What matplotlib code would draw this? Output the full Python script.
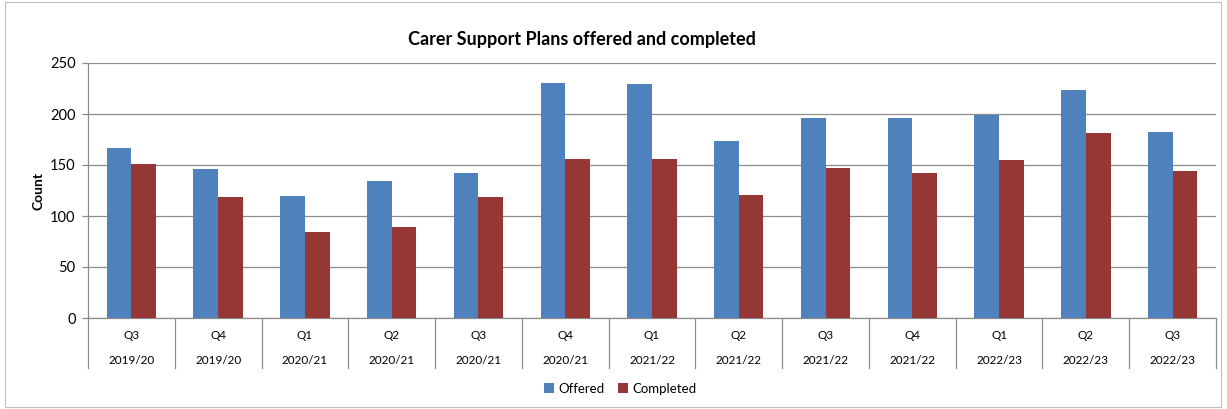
import numpy as np
import matplotlib.pyplot as plt
from matplotlib.patches import Rectangle
from matplotlib.transforms import blended_transform_factory

plt.rcParams['font.family'] = ['Lato', 'DejaVu Sans']

# 분기별 데이터
quarters = ['Q3', 'Q4', 'Q1', 'Q2', 'Q3', 'Q4', 'Q1', 'Q2', 'Q3', 'Q4', 'Q1', 'Q2', 'Q3']
years = ['2019/20', '2019/20', '2020/21', '2020/21', '2020/21', '2020/21', '2021/22',
         '2021/22', '2021/22', '2021/22', '2022/23', '2022/23', '2022/23']
offered = [167, 146, 120, 134, 142, 230, 229, 174, 196, 196, 199, 224, 182]
completed = [151, 119, 84, 89, 119, 156, 156, 121, 147, 142, 155, 181, 144]

blue = '#4F81BD'
red = '#953735'
grid_c = '#8C8C8C'

fig = plt.figure(figsize=(12.27, 4.09), dpi=100)
W, H = 1227, 409
# 축 영역 (픽셀 기준)
left, right, top, bottom = 88, 1216, 63, 318
ax = fig.add_axes([left / W, 1 - bottom / H, (right - left) / W, (bottom - top) / H])

# 차트 외곽선
fig.patches.append(Rectangle((5 / W, 2 / H), 1216 / W, 1 - 4 / H,
                             transform=fig.transFigure, fill=False,
                             edgecolor='#BFBFBF', linewidth=0.8))

x = np.arange(len(quarters))
bw = 0.285
ax.bar(x - bw / 2, offered, bw, color=blue, label='Offered', zorder=3)
ax.bar(x + bw / 2, completed, bw, color=red, label='Completed', zorder=3)

ax.set_xlim(-0.5, len(quarters) - 0.5)
ax.set_ylim(0, 250)
ax.set_yticks(range(0, 251, 50))
ax.yaxis.grid(True, color=grid_c, linewidth=0.9, zorder=0)
ax.tick_params(axis='y', length=4, width=0.9, color=grid_c, labelsize=10.5, pad=5)
ax.set_xticks([])
for s in ['top', 'right']:
    ax.spines[s].set_visible(False)
for s in ['left', 'bottom']:
    ax.spines[s].set_color(grid_c)
    ax.spines[s].set_linewidth(0.9)

# 2단 분류 축 라벨
tr = blended_transform_factory(ax.transData, ax.transAxes)
for i in range(len(quarters)):
    ax.text(x[i], -0.07, quarters[i], transform=tr, ha='center', va='center', fontsize=8.5)
    ax.text(x[i], -0.165, years[i], transform=tr, ha='center', va='center', fontsize=8.5)
for b in np.arange(-0.5, len(quarters), 1.0):
    ax.plot([b, b], [0, -0.196], transform=tr, color=grid_c, linewidth=0.9, clip_on=False)

ax.set_ylabel('Count', fontsize=10, fontweight='bold', labelpad=4)
fig.text(582 / W, 1 - 40 / H, 'Carer Support Plans offered and completed',
         ha='center', va='center', fontsize=13, fontweight='bold')

fig.legend(loc='center', bbox_to_anchor=(620 / W, 1 - 389 / H), ncol=2, frameon=False,
           fontsize=9.5, handlelength=0.8, handleheight=0.8, handletextpad=0.3,
           columnspacing=1.0)

fig.savefig('out.png', dpi=100)
